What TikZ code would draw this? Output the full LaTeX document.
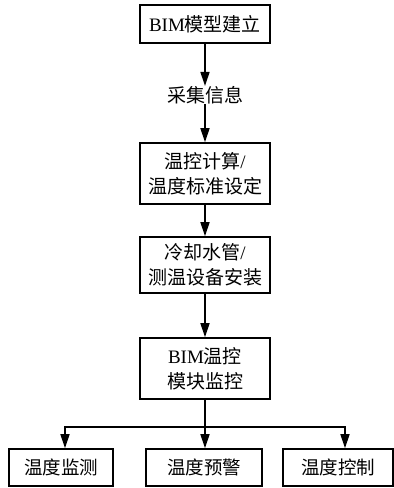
\documentclass[tikz,border=0pt]{standalone}
\usepackage{fontspec}
\setmainfont{Liberation Serif}
\newfontfamily\cjk{Noto Sans CJK SC}
\usetikzlibrary{arrows.meta}
\begin{document}
\begin{tikzpicture}[x=1pt,y=-1pt,
  box/.style={draw,line width=1.6pt,minimum width=130pt,inner sep=0pt,align=center,font=\fontsize{19}{25}\selectfont},
  lbl/.style={inner sep=0pt,font=\fontsize{19}{25}\selectfont},
  bbox/.style={draw,line width=1.6pt,minimum height=37pt,inner sep=0pt,font=\fontsize{18.5}{25}\selectfont},
  conn/.style={line width=1.6pt},
  arr/.style={line width=1.6pt,-{Triangle[length=14pt,width=9pt]}}]
\useasboundingbox (0,0) rectangle (394,488);
\node[box,minimum height=38pt] (b1) at (205,24) {BIM{\cjk 模型建立}};
\node[lbl] (s) at (205,95) {\cjk 采集信息};
\node[box,minimum height=61pt] (b2) at (205,173.5) {{\cjk 温控计算}/\\{\cjk 温度标准设定}};
\node[box,minimum height=56pt] (b3) at (205,265) {{\cjk 冷却水管}/\\{\cjk 测温设备安装}};
\node[box,minimum height=61pt] (b4) at (205,368.5) {BIM{\cjk 温控}\\{\cjk 模块监控}};
\node[bbox,minimum width=104pt] (l) at (61,467.5) {\cjk 温度监测};
\node[bbox,minimum width=116pt] (m) at (204,467.5) {\cjk 温度预警};
\node[bbox,minimum width=110pt] (r) at (338,467.5) {\cjk 温度控制};
\coordinate (j) at (205,427);
\draw[arr] (b1) -- (s);
\draw[arr] (s) -- (b2);
\draw[arr] (b2) -- (b3);
\draw[arr] (b3) -- (b4);
\draw[conn] (b4.south) -- (j);
\draw[arr] (j) -| ([xshift=4pt]l.north);
\draw[arr] (j) -- (j |- m.north);
\draw[arr] (j) -| ([xshift=7pt]r.north);
\end{tikzpicture}
\end{document}
